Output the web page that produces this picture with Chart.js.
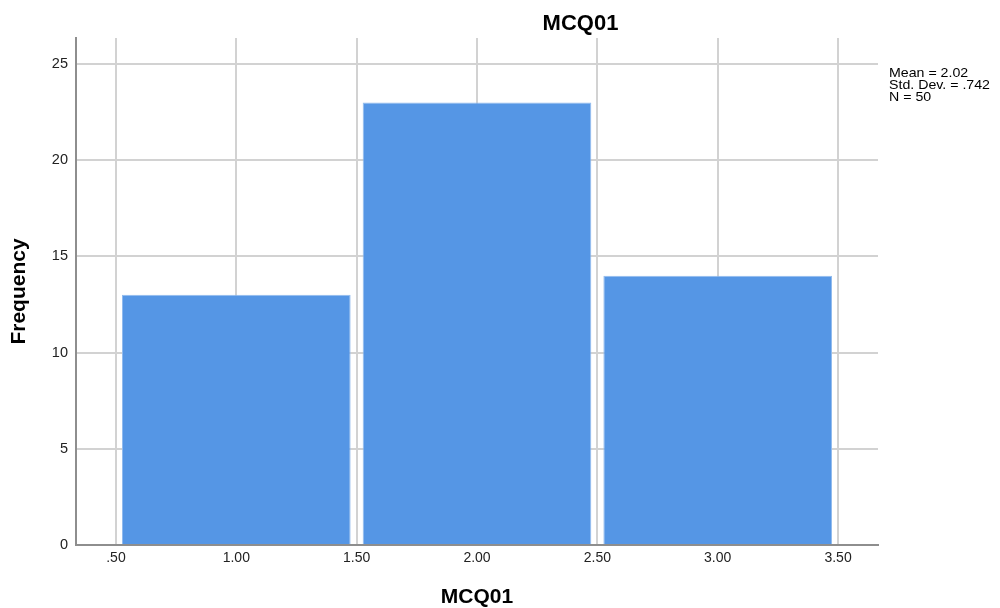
<!DOCTYPE html>
<html>
<head>
<meta charset="utf-8">
<title>MCQ01</title>
<script src="https://cdn.jsdelivr.net/npm/chart.js@4/dist/chart.umd.min.js"></script>
<style>
  html, body { margin: 0; padding: 0; background: #ffffff; }
  #wrap { width: 1000px; height: 608px; }
</style>
</head>
<body>
<div id="wrap"><canvas id="hist" width="1000" height="608"></canvas></div>
<script>
// Histogram bins (midpoints) and their counts
const binCenters = [1, 2, 3];
const frequencies = [13, 23, 14];

// Axis ticks
const xTickValues = [0.5, 1.0, 1.5, 2.0, 2.5, 3.0, 3.5];
const xTickLabels = ['.50', '1.00', '1.50', '2.00', '2.50', '3.00', '3.50'];
const yTickValues = [0, 5, 10, 15, 20, 25];
const yTickLabels = ['0', '5', '10', '15', '20', '25'];

// Summary statistics
const statLines = ['Mean = 2.02', 'Std. Dev. = .742', 'N = 50'];
const chartTitle = 'MCQ01';

const FONT = "'Liberation Sans', Arial, Helvetica, sans-serif";

const annotations = {
  id: 'annotations',
  afterDraw(chart) {
    const ctx = chart.ctx;
    ctx.save();
    ctx.fillStyle = '#000000';
    ctx.textBaseline = 'alphabetic';
    ctx.textAlign = 'center';
    ctx.font = 'bold 22px ' + FONT;
    ctx.fillText(chartTitle, 580.5, 30);

    ctx.textAlign = 'left';
    ctx.font = '13.5px ' + FONT;
    statLines.forEach((line, i) => {
      ctx.save();
      ctx.translate(889, 77 + i * 12);
      ctx.scale(1.05, 1);
      ctx.fillText(line, 0, 0);
      ctx.restore();
    });
    ctx.restore();
  }
};

new Chart(document.getElementById('hist'), {
  type: 'bar',
  data: {
    datasets: [{
      data: binCenters.map((x, i) => ({ x: x, y: frequencies[i] })),
      backgroundColor: '#5596e5',
      borderColor: '#93bcee',
      borderWidth: 1,
      // the narrowest spacing seen by the bar controller is the 0.5 tick step,
      // so each bin (one unit wide) spans two of those steps minus a small gap
      barPercentage: 1.9,
      categoryPercentage: 1.0
    }]
  },
  options: {
    responsive: false,
    animation: false,
    events: [],
    layout: { padding: { top: 38, right: 122, left: 0, bottom: 0 } },
    plugins: {
      legend: { display: false },
      tooltip: { enabled: false },
      title: { display: false }
    },
    scales: {
      x: {
        type: 'linear',
        min: 0.334,
        max: 3.666,
        offset: false,
        afterFit(scale) { scale.height = 63; },
        afterBuildTicks(scale) { scale.ticks = xTickValues.map(v => ({ value: v })); },
        grid: { offset: false, color: '#d2d2d2', lineWidth: 2, drawTicks: false },
        border: { display: true, color: '#8e8e8e', width: 2, z: 1 },
        ticks: {
          autoSkip: false,
          maxRotation: 0,
          padding: 5,
          color: '#222222',
          font: { family: FONT, size: 14 },
          callback: (v, i) => xTickLabels[i]
        },
        title: {
          display: true,
          text: 'MCQ01',
          color: '#000000',
          font: { family: FONT, size: 21, weight: 'bold', lineHeight: 1 },
          padding: { top: 0, bottom: 0 }
        }
      },
      y: {
        min: 0,
        max: 26.35,
        afterFit(scale) { scale.width = 76; },
        afterBuildTicks(scale) { scale.ticks = yTickValues.map(v => ({ value: v })); },
        grid: { color: '#d2d2d2', lineWidth: 2, drawTicks: false },
        border: { display: true, color: '#8e8e8e', width: 2, z: 1 },
        ticks: {
          padding: 8,
          color: '#222222',
          font: { family: FONT, size: 14.5 },
          callback: (v, i) => yTickLabels[i]
        },
        title: {
          display: true,
          text: 'Frequency',
          color: '#000000',
          font: { family: FONT, size: 21, weight: 'bold', lineHeight: 1 },
          padding: { top: 9, bottom: 0 }
        }
      }
    }
  },
  plugins: [annotations]
});
</script>
</body>
</html>
